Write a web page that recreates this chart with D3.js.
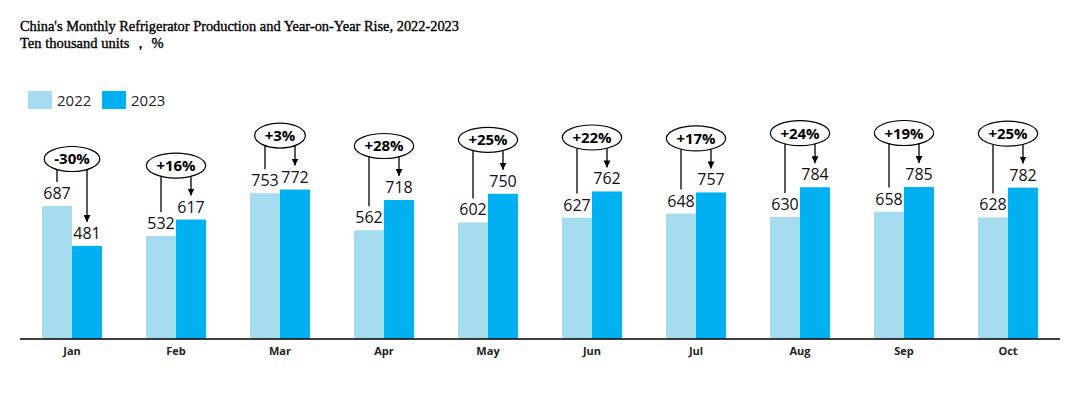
<!DOCTYPE html>
<html>
<head>
<meta charset="utf-8">
<script src="https://cdn.jsdelivr.net/npm/d3@7"></script>
<style>
  html, body { margin: 0; padding: 0; background: #fff; }
  svg { display: block; }
</style>
</head>
<body>
<svg id="chart" width="1072" height="412"></svg>
<script>
const months = ["Jan","Feb","Mar","Apr","May","Jun","Jul","Aug","Sep","Oct"];
const series = ["2022","2023"];
const values2022 = [687,532,753,562,602,627,648,630,658,628];
const values2023 = [481,617,772,718,750,762,757,784,785,782];
const yoyLabels = ["-30%","+16%","+3%","+28%","+25%","+22%","+17%","+24%","+19%","+25%"];
const titleLines = ["China's Monthly Refrigerator Production and Year-on-Year Rise, 2022-2023", "Ten thousand units \uFF0C %"];

const colors = {"2022": "#A6DCF0", "2023": "#00B0F0"};
const svg = d3.select("#chart");

const x = d3.scaleBand().domain(months).range([20, 1060]).paddingInner(0).paddingOuter(0);
const xs = d3.scaleBand().domain(series).range([0, 60]);
const groupOffset = (x.bandwidth() - 60) / 2;
const y = d3.scaleLinear().domain([0, 1000]).range([339, 145.4]);

// Title
const titleSel = svg.append("g").selectAll("text").data(titleLines).join("text")
  .attr("x", 20).attr("y", (d, i) => 31 + i * 17)
  .attr("font-family", "Liberation Serif, serif")
  .attr("font-size", 14.5).attr("font-weight", "normal")
  .attr("stroke", "#000").attr("stroke-width", 0.35)
  .attr("fill", "#000").text(d => d);
// fit first line to reference width
const tw = titleSel.nodes()[0].getComputedTextLength();
if (tw > 0) titleSel.attr("textLength", function(d, i) { return i === 0 ? 439 : null; })
  .attr("lengthAdjust", "spacingAndGlyphs");

// Legend
const leg = svg.append("g");
series.forEach((s, i) => {
  const lx = 28 + i * 74;
  leg.append("rect").attr("x", lx).attr("y", 91).attr("width", 24).attr("height", 18).attr("fill", colors[s]);
  leg.append("text").attr("x", lx + 29).attr("y", 106)
    .attr("font-family", "Open Sans, sans-serif").attr("font-size", 15).attr("fill", "#222").text(s);
});

const data = months.map((m, i) => ({m, v22: values2022[i], v23: values2023[i], pct: yoyLabels[i]}));

// Bars
const groups = svg.append("g").selectAll("g").data(data).join("g")
  .attr("transform", d => `translate(${x(d.m) + groupOffset},0)`);

groups.append("rect").attr("x", xs("2022")).attr("width", xs.bandwidth())
  .attr("y", d => y(d.v22)).attr("height", d => y(0) - y(d.v22)).attr("fill", colors["2022"]);
groups.append("rect").attr("x", xs("2023")).attr("width", xs.bandwidth())
  .attr("y", d => y(d.v23)).attr("height", d => y(0) - y(d.v23)).attr("fill", colors["2023"]);

// Value labels
const lblFont = "Open Sans, sans-serif";
groups.append("text").attr("x", xs("2022") + xs.bandwidth() / 2).attr("y", d => y(d.v22) - 7)
  .attr("text-anchor", "middle").attr("font-family", lblFont).attr("font-size", 16).attr("fill", "#111")
  .text(d => d.v22);
groups.append("text").attr("x", xs("2023") + xs.bandwidth() / 2).attr("y", d => y(d.v23) - 7)
  .attr("text-anchor", "middle").attr("font-family", lblFont).attr("font-size", 16).attr("fill", "#111")
  .text(d => d.v23);

// Arrowhead marker
svg.append("defs").append("marker").attr("id", "arr")
  .attr("viewBox", "0 0 10 10").attr("refX", 10).attr("refY", 5)
  .attr("markerWidth", 7).attr("markerHeight", 7).attr("markerUnits", "userSpaceOnUse")
  .attr("orient", "auto")
  .append("path").attr("d", "M0,0 L10,5 L0,10 Z").attr("fill", "#000");

// Annotations
groups.each(function(d, i) {
  const g = d3.select(this);
  const cx = 30;
  const cy = y(Math.max(d.v22, d.v23)) - (d.v23 < d.v22 ? 47 : 54);
  const ry = 12.5;
  const t = g.append("text").attr("x", cx).attr("y", cy + 5.5)
    .attr("text-anchor", "middle").attr("font-family", lblFont).attr("font-size", 15)
    .attr("font-weight", "bold").attr("fill", "#000").text(d.pct);
  const w = t.node().getComputedTextLength();
  const rx = w / 2 + 10;
  g.insert("ellipse", "text").attr("cx", cx).attr("cy", cy).attr("rx", rx).attr("ry", ry)
    .attr("fill", "#fff").attr("stroke", "#000").attr("stroke-width", 1.2);
  const lx = xs("2022") + xs.bandwidth() / 2;
  const rxp = xs("2023") + xs.bandwidth() / 2;
  const yAt = px => cy + ry * Math.sqrt(Math.max(0, 1 - Math.pow((px - cx) / rx, 2)));
  g.append("line").attr("x1", lx).attr("x2", lx).attr("y1", yAt(lx)).attr("y2", y(d.v22) - 24)
    .attr("stroke", "#000").attr("stroke-width", 1.3);
  g.append("line").attr("x1", rxp).attr("x2", rxp).attr("y1", yAt(rxp)).attr("y2", y(d.v23) - 24)
    .attr("stroke", "#000").attr("stroke-width", 1.3).attr("marker-end", "url(#arr)");
});

// X axis
const xAxis = svg.append("g").attr("transform", "translate(0,339)")
  .call(d3.axisBottom(x).tickSize(0).tickPadding(8));
xAxis.select(".domain").attr("stroke", "#000").attr("stroke-width", 1.5).attr("d", "M20,0H1060");
xAxis.selectAll("text").attr("font-family", lblFont).attr("font-size", 11).attr("font-weight", "bold").attr("fill", "#222");
</script>
</body>
</html>
